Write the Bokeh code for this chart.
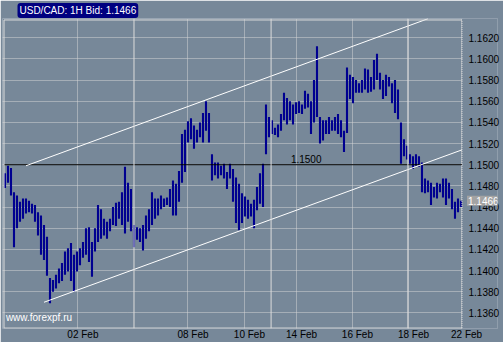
from bokeh.plotting import figure
from bokeh.models import Range1d, FixedTicker, NumeralTickFormatter, Span, Label
from bokeh.embed import file_html
from bokeh.resources import INLINE

# Hourly USD/CAD bars (high / low)
high = [1.1492, 1.1499, 1.1497, 1.1474, 1.1471, 1.1465, 1.1468, 1.1468, 1.1466, 1.1463,
        1.1462, 1.1455, 1.1452, 1.1443, 1.1432, 1.1393, 1.1391, 1.1396, 1.1402, 1.1407,
        1.1418, 1.1421, 1.1426, 1.1415, 1.1418, 1.1421, 1.1427, 1.1440, 1.1441, 1.1427,
        1.1440, 1.1462, 1.1458, 1.1449, 1.1446, 1.1449, 1.1460, 1.1464, 1.1465, 1.1474,
        1.1498, 1.1483, 1.1477, 1.1443, 1.1441, 1.1440, 1.1443, 1.1452, 1.1458, 1.1474,
        1.1468, 1.1468, 1.1471, 1.1468, 1.1469, 1.1477, 1.1485, 1.1482, 1.1494, 1.1529,
        1.1533, 1.1541, 1.1544, 1.1537, 1.1533, 1.1540, 1.1549, 1.1560, 1.1549, 1.1510,
        1.1502, 1.1502, 1.1499, 1.1501, 1.1493, 1.1501, 1.1496, 1.1488, 1.1482, 1.1473,
        1.1470, 1.1467, 1.1463, 1.1467, 1.1479, 1.1492, 1.1501, 1.1557, 1.1545, 1.1542,
        1.1535, 1.1538, 1.1548, 1.1568, 1.1563, 1.1560, 1.1557, 1.1559, 1.1560, 1.1557,
        1.1570, 1.1567, 1.1560, 1.1580, 1.1612, 1.1545, 1.1542, 1.1542, 1.1545, 1.1542,
        1.1545, 1.1548, 1.1542, 1.1532, 1.1592, 1.1585, 1.1583, 1.1580, 1.1577, 1.1580,
        1.1591, 1.1590, 1.1583, 1.1599, 1.1605, 1.1587, 1.1580, 1.1585, 1.1583, 1.1577,
        1.1580, 1.1571, 1.1540, 1.1524, 1.1518, 1.1510, 1.1508, 1.1510, 1.1508, 1.1502,
        1.1487, 1.1485, 1.1483, 1.1479, 1.1483, 1.1482, 1.1487, 1.1487, 1.1483, 1.1477,
        1.1465, 1.1468, 1.1466]
low = [1.1478, 1.1483, 1.1471, 1.1422, 1.1440, 1.1446, 1.1449, 1.1454, 1.1455, 1.1454,
       1.1446, 1.1433, 1.1415, 1.1410, 1.1395, 1.1369, 1.1380, 1.1383, 1.1388, 1.1390,
       1.1396, 1.1399, 1.1390, 1.1380, 1.1399, 1.1405, 1.1412, 1.1415, 1.1408, 1.1394,
       1.1418, 1.1427, 1.1430, 1.1433, 1.1430, 1.1437, 1.1443, 1.1442, 1.1449, 1.1443,
       1.1435, 1.1446, 1.1437, 1.1422, 1.1429, 1.1427, 1.1419, 1.1430, 1.1437, 1.1443,
       1.1449, 1.1452, 1.1458, 1.1460, 1.1462, 1.1460, 1.1452, 1.1452, 1.1465, 1.1483,
       1.1493, 1.1521, 1.1524, 1.1515, 1.1521, 1.1526, 1.1521, 1.1532, 1.1521, 1.1485,
       1.1490, 1.1487, 1.1490, 1.1487, 1.1477, 1.1487, 1.1465, 1.1445, 1.1438, 1.1445,
       1.1451, 1.1449, 1.1451, 1.1440, 1.1457, 1.1463, 1.1460, 1.1510, 1.1526, 1.1529,
       1.1528, 1.1526, 1.1532, 1.1542, 1.1538, 1.1542, 1.1538, 1.1548, 1.1549, 1.1548,
       1.1553, 1.1554, 1.1529, 1.1540, 1.1545, 1.1520, 1.1523, 1.1529, 1.1529, 1.1532,
       1.1532, 1.1529, 1.1526, 1.1512, 1.1530, 1.1562, 1.1558, 1.1568, 1.1568, 1.1568,
       1.1571, 1.1568, 1.1569, 1.1571, 1.1580, 1.1571, 1.1562, 1.1565, 1.1574, 1.1558,
       1.1549, 1.1543, 1.1501, 1.1508, 1.1505, 1.1501, 1.1496, 1.1499, 1.1498, 1.1474,
       1.1473, 1.1474, 1.1462, 1.1469, 1.1468, 1.1474, 1.1469, 1.1462, 1.1468, 1.1458,
       1.1449, 1.1455, 1.1460]
bar_index = list(range(len(high)))

x_tick_pos = [24.3, 61.0, 79.8, 97.2, 115.8, 134.5, 152.2]
x_tick_labels = ["02 Feb", "08 Feb", "10 Feb", "14 Feb", "16 Feb", "18 Feb", "22 Feb"]
week_breaks = [43.0, 88.7, 134.3]
y_tick_values = [1.1360, 1.1380, 1.1400, 1.1420, 1.1440, 1.1460, 1.1480,
                 1.1500, 1.1520, 1.1540, 1.1560, 1.1580, 1.1600, 1.1620]
ref_level = 1.1500
last_price = 1.1466
upper_channel_x = [7.0, 141.0]
upper_channel_y = [1.1499, 1.1638]
lower_channel_x = [13.0, 152.3]
lower_channel_y = [1.1370, 1.1514]
title_text = "USD/CAD: 1H Bid: 1.1466"
watermark = "www.forexpf.ru"

BG = "#778899"
GRID = "#d4d4d4"
BOX = "#dcdcdc"
FONT = "Liberation Sans"
# frame (whole canvas area between the borders) and the visible chart box inside it
X0, X1 = -0.83, 164.17
Y0, Y1 = 1.13452, 1.16382
BOX_L, BOX_R = -0.33, 152.33
BOX_B, BOX_T = 1.13456, 1.16368

p = figure(width=503, height=342, output_backend="svg", toolbar_location=None,
           x_range=Range1d(X0, X1), y_range=Range1d(Y0, Y1),
           y_axis_location="right", min_border_left=2, min_border_top=16,
           min_border_right=6, min_border_bottom=12)
p.background_fill_color = BG
p.border_fill_color = BG
p.outline_line_color = None

# title (navy box)
p.title.text = title_text
p.title.text_font = FONT
p.title.text_font_size = "10px"
p.title.text_font_style = "normal"
p.title.text_color = "white"
p.title.background_fill_color = "#000080"
p.title.align = "left"
p.title.offset = 15
p.title.standoff = 1
p.title.padding = 2
p.title.border_radius = 3

# axes
label_shift = 1.67
shifted = [round(t + label_shift, 2) for t in x_tick_pos]
p.xaxis.ticker = FixedTicker(ticks=shifted)
p.xaxis.major_label_overrides = {s: l for s, l in zip(shifted, x_tick_labels)}
p.yaxis.ticker = FixedTicker(ticks=y_tick_values)
p.yaxis.formatter = NumeralTickFormatter(format="0.0000")
for ax in (p.xaxis[0], p.yaxis[0]):
    ax.axis_line_color = None
    ax.major_tick_line_color = None
    ax.minor_tick_line_color = None
    ax.major_tick_in = 0
    ax.major_tick_out = 0
    ax.major_label_text_font = FONT
    ax.major_label_text_font_size = "10px"
    ax.major_label_text_color = "black"
p.xaxis.major_label_standoff = 0
p.yaxis.major_label_standoff = -29

# grids
p.xgrid.ticker = FixedTicker(ticks=x_tick_pos)
p.ygrid.ticker = FixedTicker(ticks=y_tick_values)
for g in (p.xgrid[0], p.ygrid[0]):
    g.grid_line_color = GRID
    g.grid_line_dash = "1 1"
    g.grid_line_width = 1

for wb in week_breaks:
    p.add_layout(Span(location=wb, dimension="height", line_color=BOX, line_width=1))

# bars
p.vbar(x=bar_index, top=high, bottom=low, width=0.7, fill_color="#000090", line_color=None)

# reference level line
p.segment(x0=[BOX_L], x1=[BOX_R], y0=[ref_level], y1=[ref_level], line_color="black", line_width=1)

# channel
p.line(upper_channel_x, upper_channel_y, line_color="white", line_width=1)
p.line(lower_channel_x, lower_channel_y, line_color="white", line_width=1)

# cover the price-scale strip right of the chart box (hides grid lines there)
p.quad(left=[BOX_R + 0.17], right=[X1], bottom=[Y0], top=[Y1], fill_color=BG, line_color=None)

# chart box outline
p.line([BOX_R, BOX_L, BOX_L, BOX_R], [BOX_T, BOX_T, BOX_B, BOX_B], line_color=BOX, line_width=1)
p.line([BOX_R, BOX_R], [BOX_B, BOX_T], line_color=BOX, line_width=1, line_dash="1 1")

p.add_layout(Label(x=95.3, y=ref_level, text=f"{ref_level:.4f}", y_offset=2,
                   text_baseline="bottom", text_align="left", text_font=FONT,
                   text_font_size="10px", text_color="black"))

# watermark
p.add_layout(Label(x=0.3, y=1.13559, text=watermark, text_baseline="middle",
                   text_align="left", text_font=FONT, text_font_size="10px",
                   text_color="white"))

# last price tag
p.add_layout(Label(x=154.0, y=last_price, text=f"{last_price:.4f}", text_baseline="middle",
                   text_align="left", text_font=FONT, text_font_size="10px",
                   text_color="white", background_fill_color="#a3a3a3", padding=1))

open("out.html", "w").write(file_html(p, INLINE))
